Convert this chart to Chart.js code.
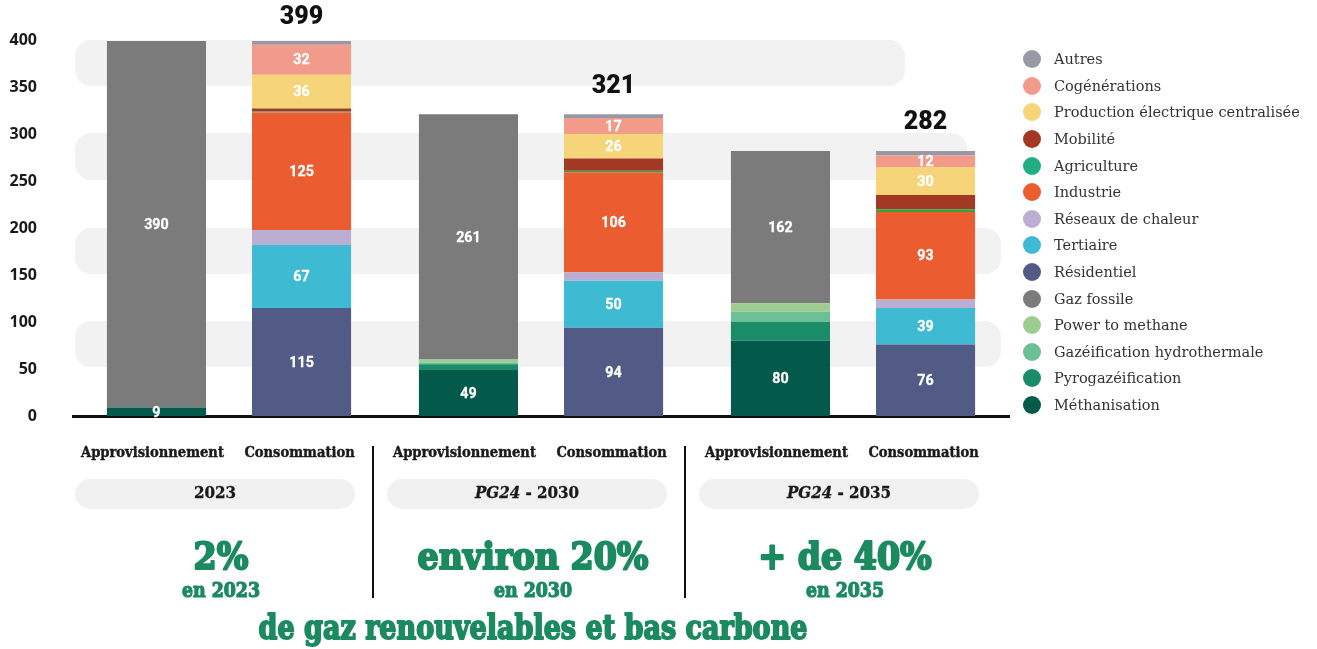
<!DOCTYPE html>
<html lang="fr">
<head>
    <meta charset="UTF-8">
    <title>Gaz renouvelables et bas carbone</title>
    <script src="https://cdn.jsdelivr.net/npm/chart.js"></script>
    <style>
        body {
            margin: 0;
            background: #fff;
        }
        #wrap {
            position: relative;
            width: 1317px;
            height: 649px;
        }
        #legend {
            position: absolute;
            left: 1023px;
            top: 46px;
            margin: 0;
            padding: 0;
            list-style: none;
            font-family: "DejaVu Serif", serif;
            font-size: 14.5px;
            color: #333;
        }
        #legend li {
            height: 26.6px;
            display: flex;
            align-items: center;
            white-space: nowrap;
        }
        #legend .dot {
            width: 18px;
            height: 18px;
            border-radius: 50%;
            margin-right: 13px;
            flex: none;
        }
    </style>
</head>
<body>

<div id="wrap">
    <canvas id="gazChart"></canvas>
    <ul id="legend"></ul>
</div>

<script>
    // categories
    const years = ['2023', 'PG24 - 2030', 'PG24 - 2035'];
    const barNames = ['Approvisionnement', 'Consommation'];

    // approvisionnement (TWh)
    const methanisation = [9, 49, 80];
    const pyrogazeification = [0, 6, 20];
    const gazeificationHydro = [0, 2, 11];
    const powerToMethane = [0, 3, 9];
    const gazFossile = [390, 261, 162];

    // consommation (TWh)
    const residentiel = [115, 94, 76];
    const tertiaire = [67, 50, 39];
    const reseauxChaleur = [16, 9, 9];
    const industrie = [125, 106, 93];
    const agriculture = [1, 2, 3];
    const mobilite = [3, 13, 15];
    const productionElec = [36, 26, 30];
    const cogenerations = [32, 17, 12];
    const autres = [4, 4, 5];

    const totals = [399, 321, 282];
    const shares = ['2%', 'environ 20%', '+ de 40%'];
    const shareYears = ['en 2023', 'en 2030', 'en 2035'];
    const footer = 'de gaz renouvelables et bas carbone';

    const yMax = 400;
    const yStep = 50;

    // grey background bands (value ranges)
    const bands = [[52, 101], [151, 200], [251, 301], [351, 400]];

    const GREEN = '#1b8a5f';

    // bottom to top in each stack
    const series = [
        { label: 'Méthanisation', data: methanisation, color: '#03594a', stack: 'appro', showValue: true },
        { label: 'Pyrogazéification', data: pyrogazeification, color: '#1a8d68', stack: 'appro' },
        { label: 'Gazéification hydrothermale', data: gazeificationHydro, color: '#6dbf98', stack: 'appro' },
        { label: 'Power to methane', data: powerToMethane, color: '#9dcd90', stack: 'appro' },
        { label: 'Gaz fossile', data: gazFossile, color: '#7b7b7b', stack: 'appro', showValue: true },
        { label: 'Résidentiel', data: residentiel, color: '#525b86', stack: 'conso', showValue: true },
        { label: 'Tertiaire', data: tertiaire, color: '#3fbad3', stack: 'conso', showValue: true },
        { label: 'Réseaux de chaleur', data: reseauxChaleur, color: '#bcadd3', stack: 'conso' },
        { label: 'Industrie', data: industrie, color: '#eb5d30', stack: 'conso', showValue: true },
        { label: 'Agriculture', data: agriculture, color: '#3a9e3a', legendColor: '#22ae83', stack: 'conso' },
        { label: 'Mobilité', data: mobilite, color: '#a33824', stack: 'conso' },
        { label: 'Production électrique centralisée', data: productionElec, color: '#f6d47a', stack: 'conso', showValue: true },
        { label: 'Cogénérations', data: cogenerations, color: '#f39b8b', stack: 'conso', showValue: true },
        { label: 'Autres', data: autres, color: '#9998a5', stack: 'conso' }
    ];

    // html legend, top item = last dataset
    const legendEl = document.getElementById('legend');
    series.slice().reverse().forEach(s => {
        const li = document.createElement('li');
        const dot = document.createElement('span');
        dot.className = 'dot';
        dot.style.background = s.legendColor || s.color;
        li.appendChild(dot);
        li.appendChild(document.createTextNode(s.label));
        legendEl.appendChild(li);
    });

    // text helper: horizontal squeeze + optional stroke to thicken the glyphs
    function drawText(ctx, text, x, y, font, color, sx, align, thick) {
        ctx.save();
        ctx.font = font;
        ctx.fillStyle = color;
        ctx.strokeStyle = color;
        ctx.lineJoin = 'round';
        ctx.textAlign = align || 'center';
        ctx.textBaseline = 'middle';
        ctx.translate(x, y);
        ctx.scale(sx, 1);
        if (thick) {
            ctx.lineWidth = thick;
            ctx.strokeText(text, 0, 0);
        }
        ctx.fillText(text, 0, 0);
        ctx.restore();
    }

    const bandsPlugin = {
        id: 'bands',
        beforeDatasetsDraw(chart) {
            const ctx = chart.ctx;
            const area = chart.chartArea;
            const y = chart.scales.y;
            const rightInset = [8, 8, 42, 104];
            ctx.save();
            ctx.fillStyle = '#f2f2f2';
            bands.forEach((b, i) => {
                const top = y.getPixelForValue(b[1]);
                const bottom = y.getPixelForValue(b[0]);
                ctx.beginPath();
                ctx.roundRect(area.left + 2, top, area.right - rightInset[i] - area.left - 2, bottom - top, 16);
                ctx.fill();
            });
            ctx.restore();
        }
    };

    const labelsPlugin = {
        id: 'valueLabels',
        afterDatasetsDraw(chart) {
            const ctx = chart.ctx;
            chart.data.datasets.forEach((ds, i) => {
                if (!ds.showValue) return;
                chart.getDatasetMeta(i).data.forEach((el, j) => {
                    const v = ds.data[j];
                    if (!v) return;
                    drawText(ctx, String(v), el.x, (el.y + el.base) / 2 + 1,
                        'bold 15px Roboto, "Open Sans", sans-serif', '#fff', 0.95, 'center', 0.3);
                });
            });
            // totals over the consumption bars
            const topMeta = chart.getDatasetMeta(series.length - 1);
            topMeta.data.forEach((el, j) => {
                drawText(ctx, String(totals[j]), el.x, Math.max(el.y - 28, 18),
                    '900 25px Roboto, "Open Sans", sans-serif', '#111', 1);
            });
        }
    };

    const bottomPlugin = {
        id: 'bottomTexts',
        afterDraw(chart) {
            const ctx = chart.ctx;
            const x = chart.scales.x;
            const centers = years.map((_, j) => x.getPixelForValue(j));
            const appro = chart.getDatasetMeta(0).data;
            const conso = chart.getDatasetMeta(5).data;
            const slab = '"DejaVu Serif Condensed", "DejaVu Serif", serif';
            const ink = '#1a1a1a';

            years.forEach((yr, j) => {
                const cx = centers[j];
                // bar names
                drawText(ctx, barNames[0], appro[j].x - 4, 453, 'bold 14px ' + slab, ink, 1.04, 'center', 0.4);
                drawText(ctx, barNames[1], conso[j].x - 2, 453, 'bold 14px ' + slab, ink, 1.04, 'center', 0.4);

                // pill
                const pc = cx - 14;
                ctx.save();
                ctx.fillStyle = '#f1f1f1';
                ctx.beginPath();
                ctx.roundRect(pc - 140, 479, 280, 30, 15);
                ctx.fill();
                ctx.restore();

                const parts = yr.split(' - ');
                const sx = 1.05;
                if (parts.length === 2) {
                    ctx.save();
                    ctx.font = 'italic bold 16px ' + slab;
                    const w1 = ctx.measureText(parts[0]).width * sx;
                    ctx.font = 'bold 16px ' + slab;
                    const w2 = ctx.measureText(' - ' + parts[1]).width * sx;
                    ctx.restore();
                    const left = pc - (w1 + w2) / 2;
                    drawText(ctx, parts[0], left, 494, 'italic bold 16px ' + slab, ink, sx, 'left', 0.3);
                    drawText(ctx, ' - ' + parts[1], left + w1, 494, 'bold 16px ' + slab, ink, sx, 'left', 0.3);
                } else {
                    drawText(ctx, yr, pc, 494, 'bold 16px ' + slab, ink, sx, 'center', 0.3);
                }

                // share of renewable gas
                const gc = cx - 8;
                drawText(ctx, shares[j], gc, 559, 'bold 37px ' + slab, GREEN, 1.0, 'center', 2);
                drawText(ctx, shareYears[j], gc, 592, 'bold 21px ' + slab, GREEN, 0.92, 'center', 1.2);
            });

            // separators between the years
            ctx.save();
            ctx.strokeStyle = '#111';
            ctx.lineWidth = 2;
            for (let j = 0; j < centers.length - 1; j++) {
                const sx = (centers[j] + centers[j + 1]) / 2 - 12;
                ctx.beginPath();
                ctx.moveTo(sx, 446);
                ctx.lineTo(sx, 598);
                ctx.stroke();
            }
            ctx.restore();

            drawText(ctx, footer, centers[1] - 8, 630, 'bold 33px ' + slab, GREEN, 0.91, 'center', 1.8);
        }
    };

    const ctx = document.getElementById('gazChart').getContext('2d');
    window.myChart = new Chart(ctx, {
        type: 'bar',
        data: {
            labels: years,
            datasets: series.map(s => ({
                label: s.label,
                data: s.data,
                stack: s.stack,
                backgroundColor: s.color,
                borderWidth: 0,
                showValue: !!s.showValue,
                categoryPercentage: 0.93,
                barPercentage: 0.683
            }))
        },
        options: {
            responsive: true,
            maintainAspectRatio: false,
            animation: false,
            layout: {
                padding: { top: 40, right: 308, left: 0, bottom: 0 }
            },
            scales: {
                x: {
                    stacked: true,
                    grid: { display: false, drawTicks: false },
                    border: { color: '#111', width: 3 },
                    ticks: { display: false },
                    afterFit: scale => { scale.height = 233; }
                },
                y: {
                    stacked: true,
                    min: 0,
                    max: yMax,
                    grid: { display: false, drawTicks: false },
                    border: { display: false },
                    ticks: {
                        stepSize: yStep,
                        padding: 36,
                        color: '#1a1a1a',
                        font: { family: '"Open Sans", Roboto, sans-serif', size: 16, weight: 'bold' }
                    },
                    afterFit: scale => {
                        scale.width = 73;
                        // the big label padding must not push the plot down
                        scale.paddingTop = 0;
                        scale.paddingBottom = 0;
                    }
                }
            },
            plugins: {
                legend: { display: false },
                tooltip: { enabled: false }
            }
        },
        plugins: [bandsPlugin, labelsPlugin, bottomPlugin]
    });
</script>

</body>
</html>
